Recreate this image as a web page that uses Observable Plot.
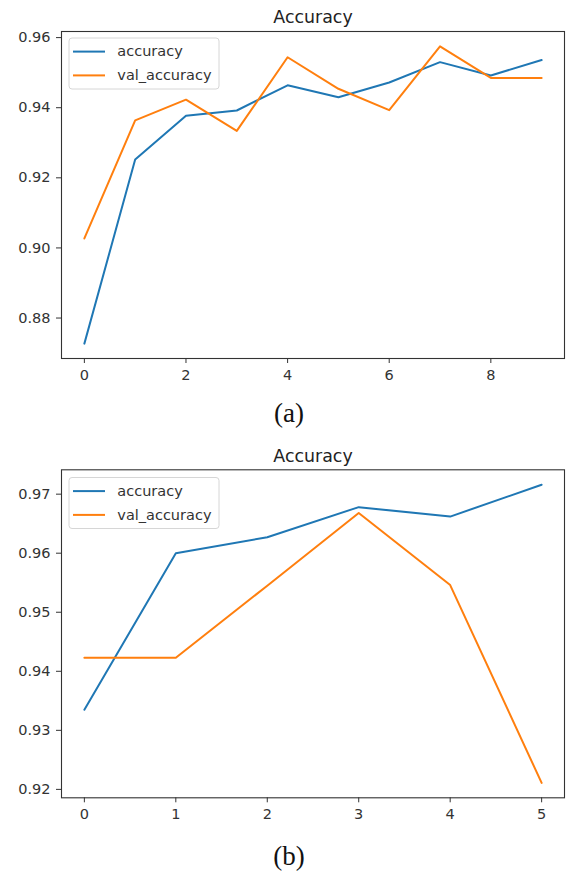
<!DOCTYPE html>
<html>
<head>
<meta charset="utf-8">
<script src="https://cdn.jsdelivr.net/npm/d3@7"></script>
<script src="https://cdn.jsdelivr.net/npm/@observablehq/plot@0.6"></script>
<style>
  html, body { margin: 0; padding: 0; background: white; }
  #wrap { position: relative; width: 567px; height: 872px; overflow: hidden; }
  #wrap > svg { position: absolute; left: 0; }
</style>
</head>
<body>
<div id="wrap"></div>
<script>
// ---- data ----
const seriesNames = ["accuracy", "val_accuracy"];
const seriesColors = ["#1f77b4", "#ff7f0e"];
const titleText = "Accuracy";

const epochsA = [0, 1, 2, 3, 4, 5, 6, 7, 8, 9];
const accA = [0.8727, 0.9252, 0.9377, 0.9392, 0.9464, 0.9430, 0.9472, 0.9530, 0.9492, 0.9536];
const valA = [0.9027, 0.9364, 0.9423, 0.9334, 0.9544, 0.9454, 0.9393, 0.9575, 0.9485, 0.9485];
const xTicksA = [0, 2, 4, 6, 8];
const yTicksA = [0.88, 0.90, 0.92, 0.94, 0.96];

const epochsB = [0, 1, 2, 3, 4, 5];
const accB = [0.9335, 0.9600, 0.9627, 0.9678, 0.9662, 0.9716];
const valB = [0.9423, 0.9423, 0.9545, 0.9668, 0.9546, 0.9211];
const xTicksB = [0, 1, 2, 3, 4, 5];
const yTicksB = [0.92, 0.93, 0.94, 0.95, 0.96, 0.97];

const captions = ["(a)", "(b)"];

// ---- helpers ----
function padded(vals) {
  const lo = d3.min(vals), hi = d3.max(vals), r = hi - lo;
  return [lo - 0.05 * r, hi + 0.05 * r];
}

function makePlot(epochs, acc, val, xTicks, yTicks, marginTop, height, marginBottom) {
  const data = [];
  epochs.forEach((e, i) => data.push({epoch: e, value: acc[i], series: seriesNames[0]}));
  epochs.forEach((e, i) => data.push({epoch: e, value: val[i], series: seriesNames[1]}));
  return Plot.plot({
    width: 567,
    height,
    marginLeft: 61,
    marginRight: 3,
    marginTop,
    marginBottom,
    style: {fontFamily: "DejaVu Sans", fontSize: "14.5px", color: "#333", background: "transparent"},
    x: {domain: padded(epochs), ticks: xTicks, tickFormat: d => String(d), tickSize: 5, tickPadding: 6, label: null},
    y: {domain: padded(acc.concat(val)), ticks: yTicks, tickFormat: ".2f", tickSize: 5, tickPadding: 6, label: null},
    color: {domain: seriesNames, range: seriesColors},
    marks: [
      Plot.lineY(data, {x: "epoch", y: "value", stroke: "series", strokeWidth: 2}),
      Plot.frame({stroke: "#333", strokeWidth: 1.1}),
      Plot.text([titleText], {frameAnchor: "top", lineAnchor: "bottom", dy: -8.3, fontSize: 17.4, fill: "#222"})
    ]
  });
}

const wrap = document.getElementById("wrap");

const p1 = makePlot(epochsA, accA, valA, xTicksA, yTicksA, 31, 400, 42);
p1.style.top = "0px";
wrap.appendChild(p1);

const p2 = makePlot(epochsB, accB, valB, xTicksB, yTicksB, 29.3, 400, 42.7);
p2.style.top = "440px";
wrap.appendChild(p2);

// ---- overlay: legends and captions ----
const ov = d3.select(wrap).append("svg")
  .attr("width", 567).attr("height", 872)
  .style("top", "0px")
  .style("font-family", "DejaVu Sans");

function legend(boxTop) {
  const g = ov.append("g");
  g.append("rect")
    .attr("x", 69).attr("y", boxTop).attr("width", 150).attr("height", 51)
    .attr("rx", 3).attr("fill", "rgba(255,255,255,0.85)")
    .attr("stroke", "#d6d6d6").attr("stroke-width", 1);
  seriesNames.forEach((s, i) => {
    const ly = boxTop + 13.6 + i * 23.8;
    g.append("line").attr("x1", 73).attr("x2", 105).attr("y1", ly).attr("y2", ly)
      .attr("stroke", seriesColors[i]).attr("stroke-width", 2);
    g.append("text").attr("x", 117.3).attr("y", ly + 4.8)
      .attr("font-size", 14.5).attr("fill", "#333").text(s);
  });
}
legend(38);
legend(477.5);

function caption(txt, baseline) {
  ov.append("text").attr("x", 289).attr("y", baseline)
    .attr("text-anchor", "middle")
    .attr("font-family", "Liberation Serif")
    .attr("font-size", 27).attr("fill", "#111").text(txt);
}
caption(captions[0], 422);
caption(captions[1], 864.5);
</script>
</body>
</html>
